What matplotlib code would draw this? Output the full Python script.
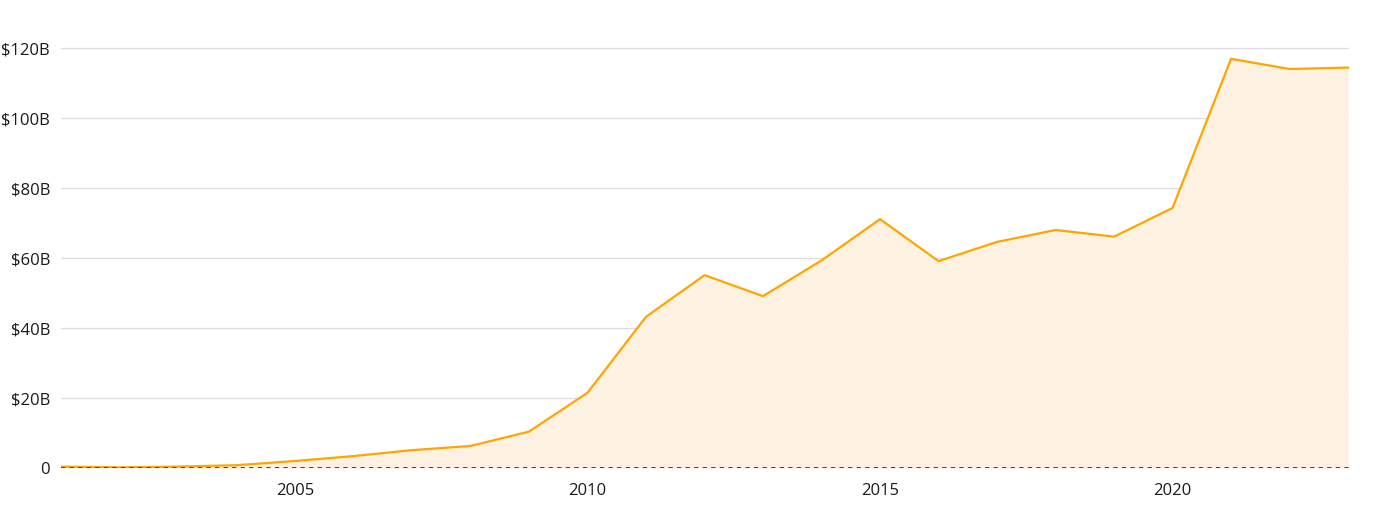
import numpy as np
import matplotlib.pyplot as plt

years = list(range(2001, 2024))
values_b = [0.4, 0.2, 0.4, 0.8, 2.0, 3.4, 5.1, 6.3, 10.4, 21.5, 43.2, 55.1, 49.1,
            59.3, 71.1, 59.1, 64.6, 68.0, 66.1, 74.3, 116.9, 114.0, 114.4]
y_ticks = [0, 20, 40, 60, 80, 100, 120]
y_labels = ['0', '$20B', '$40B', '$60B', '$80B', '$100B', '$120B']
x_ticks = [2005, 2010, 2015, 2020]

plt.rcParams['font.family'] = ['Open Sans', 'DejaVu Sans']

fig = plt.figure(figsize=(13.73, 5.08), dpi=100)
ax = fig.add_axes([61 / 1373, 40 / 508, 1290 / 1373, 437.5 / 508])

ax.fill_between(years, values_b, 0, color='#fdf1e1', lw=0, zorder=1)
ax.plot(years, values_b, color='#ffa500', lw=1.6, zorder=3)
ax.axhline(0, color='#444444', lw=1.4, ls=(0, (2.2, 2.2)), zorder=4)

ax.set_xlim(2001, 2023.05)
ax.set_ylim(0, 125)
ax.set_yticks(y_ticks)
ax.set_yticklabels(y_labels)
ax.set_xticks(x_ticks)
ax.set_xticklabels([str(x) for x in x_ticks])
ax.tick_params(length=0, labelsize=12, colors='#1a1a1a')
ax.tick_params(axis='y', pad=8)
ax.tick_params(axis='x', pad=11)

for t in y_ticks[1:]:
    ax.plot([2001, 2023], [t, t], color='#dddddd', lw=0.9, zorder=0)

for s in ax.spines.values():
    s.set_visible(False)

fig.savefig('out.png', dpi=100)
